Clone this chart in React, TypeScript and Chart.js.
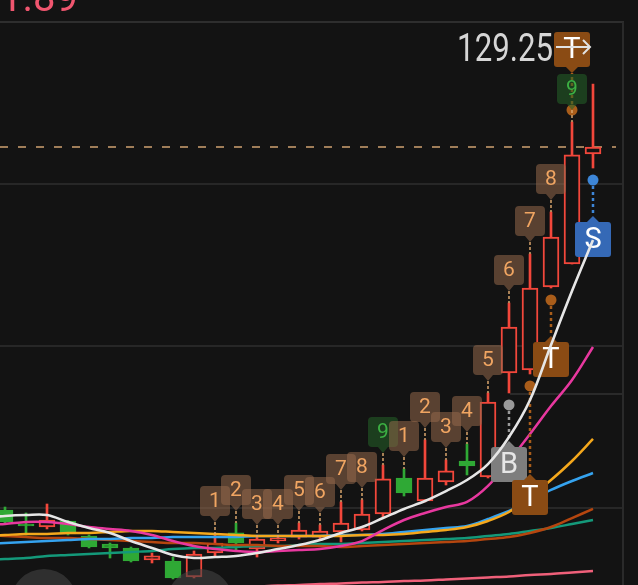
import React, { useEffect, useRef } from 'react';
import { Chart, registerables } from 'chart.js';

Chart.register(...registerables);

// ---------- data ----------
const opens = [89.81, 88.52, 88.24, 88.80, 87.41, 86.67, 86.30, 85.19, 85.09, 83.61, 85.83, 87.69, 86.20, 86.94, 87.31, 87.31, 87.78, 87.96, 89.44, 92.78, 90.65, 92.41, 94.35, 92.87, 102.50, 102.78, 110.46, 112.59, 122.78];
const highs = [90.09, 89.54, 90.37, 88.85, 87.50, 86.76, 86.39, 85.83, 85.46, 86.02, 87.59, 88.61, 87.31, 87.31, 88.61, 88.43, 90.56, 90.74, 93.98, 93.61, 96.30, 94.44, 95.93, 100.65, 108.98, 113.52, 117.41, 125.74, 129.25];
const lows = [88.61, 87.50, 88.06, 87.50, 86.30, 85.37, 85.00, 84.91, 83.43, 83.52, 85.56, 86.11, 85.46, 86.76, 87.13, 87.13, 86.85, 87.87, 89.17, 91.11, 90.56, 92.13, 93.06, 92.78, 100.65, 102.41, 110.37, 112.59, 121.48];
const closes = [88.70, 88.33, 88.89, 87.59, 86.39, 86.30, 85.09, 85.56, 83.52, 85.74, 86.76, 86.76, 87.13, 87.22, 87.96, 87.87, 88.61, 89.44, 92.69, 91.39, 92.78, 93.43, 93.89, 99.81, 106.76, 110.37, 115.09, 122.69, 123.43];

// moving-average lines: first value belongs to the bar just left of the visible window (x = -1)
const maWhite = [89.07, 89.26, 89.35, 89.35, 88.70, 88.15, 87.69, 86.94, 86.30, 85.65, 85.37, 85.46, 85.56, 85.83, 86.20, 86.57, 87.04, 87.69, 88.24, 89.07, 89.91, 90.65, 91.57, 92.59, 94.07, 96.57, 100.00, 105.09, 110.09, 114.81];
const maMagenta = [88.43, 88.52, 88.70, 88.70, 88.52, 88.24, 88.06, 87.87, 87.50, 86.94, 86.48, 86.20, 86.02, 85.93, 86.02, 86.11, 86.20, 86.48, 86.94, 87.96, 88.89, 89.54, 90.09, 90.56, 92.04, 94.35, 96.85, 99.44, 101.85, 104.91];
const maOrange = [87.41, 87.50, 87.59, 87.59, 87.69, 87.69, 87.78, 87.87, 87.87, 87.78, 87.69, 87.59, 87.50, 87.41, 87.41, 87.41, 87.41, 87.41, 87.50, 87.50, 87.59, 87.78, 87.96, 88.24, 88.80, 89.63, 91.02, 92.59, 94.35, 96.39];
const maBlue = [86.67, 86.76, 86.85, 86.94, 87.04, 87.13, 87.13, 87.22, 87.22, 87.31, 87.31, 87.31, 87.31, 87.41, 87.41, 87.41, 87.41, 87.50, 87.50, 87.59, 87.78, 87.96, 88.15, 88.33, 88.98, 89.72, 90.65, 91.67, 92.50, 93.24];
const maBrown = [87.50, 87.41, 87.31, 87.22, 87.22, 87.13, 87.04, 86.94, 86.85, 86.76, 86.76, 86.67, 86.57, 86.57, 86.48, 86.48, 86.48, 86.39, 86.48, 86.57, 86.67, 86.76, 86.85, 86.94, 87.13, 87.31, 87.69, 88.24, 89.07, 89.91];
const maTeal = [85.19, 85.28, 85.37, 85.56, 85.65, 85.74, 85.83, 85.93, 86.02, 86.20, 86.30, 86.30, 86.39, 86.48, 86.48, 86.57, 86.67, 86.67, 86.76, 86.85, 86.94, 87.04, 87.13, 87.22, 87.41, 87.59, 87.87, 88.15, 88.52, 88.89];
const maPink = [null, null, null, null, null, null, null, null, null, null, null, null, null, 82.73, 82.82, 82.87, 82.96, 83.01, 83.10, 83.15, 83.24, 83.29, 83.38, 83.47, 83.57, 83.66, 83.80, 83.89, 84.03, 84.17];

const tdCounts = [null, null, null, null, null, null, null, null, null, null, 1, 2, 3, 4, 5, 6, 7, 8, 9, 1, 2, 3, 4, 5, 6, 7, 8, 9, null];

const signalIdx = [24, 25, 26, 27, 28];
const signalType = ['B', 'T', 'T', 'T', 'S'];
const signalSide = ['below', 'below', 'below', 'above', 'below'];

const headerValue = '91.89';
const gridValues = [135, 120, 105, 90];
const yMin = 82.87;
const yMax = 135;
const xMin = -0.2381;
const xMax = 29.381;

// ---------- styles ----------
const BG = '#131313';
const RED = '#f2473b';
const GREEN = '#2fa935';
const FONT = 'Roboto, "Noto Sans", sans-serif';

const idx = opens.map((_, i) => i);
const isUp = (i: number) => closes[i] >= opens[i];

const boxColors: Record<string, string> = { T: '#8a4b14', B: '#7e7e7e', S: '#3569b6' };
const dotColors: Record<string, string> = { T: '#a95d1a', B: '#9a9a9a', S: '#3d86d8' };

const overlayPlugin = {
  id: 'overlay',
  beforeDraw(chart: any) {
    const { ctx, chartArea, scales } = chart;
    const ys = scales.y;
    ctx.save();
    ctx.fillStyle = BG;
    ctx.fillRect(0, 0, chart.width, chart.height);
    ctx.lineWidth = 2;
    gridValues.forEach((v, k) => {
      const y = Math.round(ys.getPixelForValue(v));
      ctx.strokeStyle = k === 0 ? '#2e2e2e' : '#272727';
      ctx.beginPath();
      ctx.moveTo(0, y);
      ctx.lineTo(chartArea.right + 2, y);
      ctx.stroke();
    });
    ctx.strokeStyle = '#2a2a2a';
    ctx.beginPath();
    ctx.moveTo(chartArea.right + 1, chartArea.top);
    ctx.lineTo(chartArea.right + 1, chart.height);
    ctx.stroke();
    ctx.beginPath();
    ctx.moveTo(510, 394);
    ctx.lineTo(chartArea.right, 394);
    ctx.stroke();
    ctx.restore();
  },
  beforeDatasetsDraw(chart: any) {
    const { ctx, scales } = chart;
    const y = Math.round(scales.y.getPixelForValue(closes[closes.length - 1]));
    ctx.save();
    ctx.strokeStyle = '#cfa372';
    ctx.lineWidth = 1.5;
    ctx.setLineDash([8, 10]);
    ctx.beginPath();
    ctx.moveTo(0, y);
    ctx.lineTo(616, y);
    ctx.stroke();
    ctx.restore();
  },
  beforeDatasetDraw(chart: any, args: any) {
    if (chart.data.datasets[args.index].label !== 'MA5') return;
    const { ctx, scales } = chart;
    const xs = scales.x, ys = scales.y;
    const placed: { x: number; top: number; bottom: number }[] = [];
    ctx.save();
    for (let k = 0; k < signalIdx.length; k++) {
      const i = signalIdx[k];
      const t = signalType[k];
      const x = xs.getPixelForValue(i);
      const bw = 36, bh = 35;
      let top: number, dotY: number, tipY: number;
      if (signalSide[k] === 'below') {
        const ly = ys.getPixelForValue(lows[i]);
        dotY = ly + 12;
        top = ly + 54;
        for (const p of placed) {
          if (Math.abs(p.x - x) < bw && top < p.bottom && top + bh > p.top) top = p.bottom - 2;
        }
        tipY = top - 6;
      } else {
        const hy = ys.getPixelForValue(highs[i]);
        dotY = hy - 12;
        top = hy - 55 - bh;
        tipY = top + bh + 6;
      }
      placed.push({ x, top, bottom: top + bh });
      ctx.strokeStyle = dotColors[t];
      ctx.lineWidth = 2.5;
      ctx.setLineDash([3, 3]);
      ctx.beginPath();
      ctx.moveTo(x, dotY);
      ctx.lineTo(x, tipY);
      ctx.stroke();
      ctx.setLineDash([]);
      ctx.fillStyle = dotColors[t];
      ctx.beginPath();
      ctx.arc(x, dotY, 5.5, 0, Math.PI * 2);
      ctx.fill();
      ctx.fillStyle = boxColors[t];
      ctx.beginPath();
      ctx.roundRect(x - bw / 2, top, bw, bh, 3);
      if (signalSide[k] === 'below') {
        ctx.moveTo(x - 6, top);
        ctx.lineTo(x, top - 6);
        ctx.lineTo(x + 6, top);
      } else {
        ctx.moveTo(x - 6, top + bh);
        ctx.lineTo(x, top + bh + 6);
        ctx.lineTo(x + 6, top + bh);
      }
      ctx.closePath();
      ctx.fill();
      ctx.fillStyle = t === 'B' ? '#e6e6e6' : '#ffffff';
      ctx.font = `29px ${FONT}`;
      ctx.textAlign = 'center';
      ctx.textBaseline = 'middle';
      ctx.fillText(t, x, top + bh / 2 + 1);
    }
    ctx.restore();
  },
  afterDatasetsDraw(chart: any) {
    const { ctx, scales } = chart;
    const xs = scales.x, ys = scales.y;
    ctx.save();
    for (let i = 0; i < tdCounts.length; i++) {
      const n = tdCounts[i];
      if (n == null) continue;
      const x = xs.getPixelForValue(i);
      const hy = ys.getPixelForValue(highs[i]);
      const bottom = hy - 18;
      const top = bottom - 30;
      const green = n === 9;
      ctx.strokeStyle = '#d9a56d';
      ctx.lineWidth = 1.5;
      ctx.setLineDash([3, 2]);
      ctx.beginPath();
      ctx.moveTo(x, bottom + 6);
      ctx.lineTo(x, hy);
      ctx.stroke();
      ctx.setLineDash([]);
      ctx.fillStyle = green ? 'rgba(36,98,40,0.55)' : 'rgba(148,104,75,0.55)';
      ctx.beginPath();
      ctx.roundRect(x - 15, top, 30, 30, 4);
      ctx.moveTo(x - 5, bottom);
      ctx.lineTo(x, bottom + 6);
      ctx.lineTo(x + 5, bottom);
      ctx.closePath();
      ctx.fill();
      ctx.fillStyle = green ? '#3cb043' : '#f0a562';
      ctx.font = `21px ${FONT}`;
      ctx.textAlign = 'center';
      ctx.textBaseline = 'middle';
      ctx.fillText(String(n), x, top + 16);
    }
    ctx.restore();
  },
  afterDraw(chart: any) {
    const { ctx, scales, chartArea } = chart;
    const xs = scales.x;
    ctx.save();
    let iMax = 0;
    highs.forEach((h, i) => { if (h > highs[iMax]) iMax = i; });
    const mx = xs.getPixelForValue(iMax);
    const my = chartArea.top + 25;
    ctx.strokeStyle = '#e2e2e2';
    ctx.lineWidth = 2;
    ctx.beginPath();
    ctx.moveTo(mx - 37, my);
    ctx.lineTo(mx - 3, my);
    ctx.moveTo(mx - 10, my - 7);
    ctx.lineTo(mx - 3, my);
    ctx.lineTo(mx - 10, my + 7);
    ctx.stroke();
    ctx.fillStyle = '#d6d6d6';
    ctx.font = `39px ${FONT}`;
    ctx.textAlign = 'right';
    ctx.textBaseline = 'alphabetic';
    ctx.translate(mx - 40, chartArea.top + 39);
    ctx.scale(0.8, 1);
    ctx.fillText(highs[iMax].toFixed(2), 0, 0);
    ctx.setTransform(1, 0, 0, 1, 0, 0);
    ctx.fillStyle = '#f0566f';
    ctx.font = `40px ${FONT}`;
    ctx.textAlign = 'right';
    ctx.fillText(headerValue, 78, 11);
    ctx.fillStyle = 'rgba(66,66,66,0.6)';
    [44, 200].forEach((cx) => {
      ctx.beginPath();
      ctx.arc(cx, 602, 33, 0, Math.PI * 2);
      ctx.fill();
    });
    ctx.restore();
  },
};

const line = (label: string, data: (number | null)[], color: string, order: number, width = 2.5) => ({
  type: 'line' as const,
  label,
  data: data.map((v, i) => ({ x: i - 1, y: v })),
  borderColor: color,
  borderWidth: width,
  pointRadius: 0,
  tension: 0.35,
  fill: false,
  spanGaps: false,
  order,
});

export default function App() {
  const ref = useRef<HTMLCanvasElement>(null);
  useEffect(() => {
    document.body.style.background = BG;
    const chart = new Chart(ref.current as HTMLCanvasElement, {
      type: 'bar',
      data: {
        datasets: [
          {
            type: 'bar',
            label: 'wick',
            data: idx.map((i) => ({ x: i, y: [lows[i], highs[i]] })) as any,
            backgroundColor: idx.map((i) => (isUp(i) ? RED : GREEN)),
            borderWidth: 0,
            barThickness: 2,
            grouped: false,
            order: 20,
          } as any,
          {
            type: 'bar',
            label: 'body',
            data: idx.map((i) => ({ x: i, y: [opens[i], closes[i]] })) as any,
            backgroundColor: idx.map((i) => (isUp(i) ? BG : GREEN)),
            borderColor: idx.map((i) => (isUp(i) ? RED : GREEN)),
            borderWidth: 2,
            borderSkipped: false,
            barThickness: 16,
            grouped: false,
            order: 19,
          } as any,
          line('MA250', maPink, '#f0607a', 18) as any,
          line('MA120', maTeal, '#14997a', 17) as any,
          line('MA60', maBrown, '#b5460f', 16) as any,
          line('MA30', maBlue, '#35a3ef', 15) as any,
          line('MA20', maOrange, '#f5a81c', 14) as any,
          line('MA10', maMagenta, '#e8389f', 13) as any,
          line('MA5', maWhite, '#e6e6e6', 1, 2.6) as any,
        ],
      },
      options: {
        animation: false,
        responsive: false,
        maintainAspectRatio: false,
        layout: { padding: { top: 22, right: 16, bottom: 0, left: 0 } },
        plugins: { legend: { display: false }, tooltip: { enabled: false } },
        events: [],
        scales: {
          x: { type: 'linear', display: false, min: xMin, max: xMax, offset: false },
          y: { type: 'linear', display: false, min: yMin, max: yMax },
        },
      },
      plugins: [overlayPlugin],
    });
    return () => chart.destroy();
  }, []);
  return (
    <div style={{ position: 'absolute', left: 0, top: 0, width: 638, height: 585, background: BG }}>
      <canvas ref={ref} width={638} height={585} style={{ display: 'block' }} />
    </div>
  );
}
